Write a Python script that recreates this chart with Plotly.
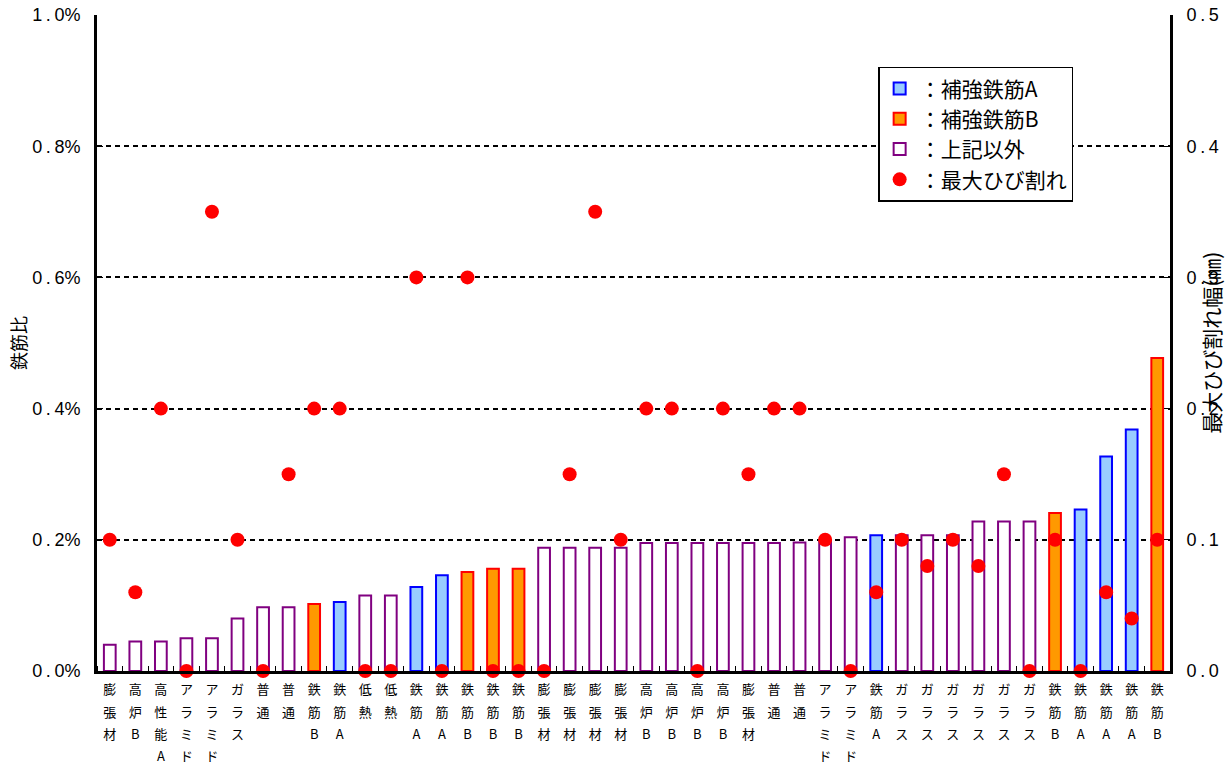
import plotly.graph_objects as go

categories = ["膨張材", "高炉B", "高性能A", "アラミド", "アラミド", "ガラス", "普通", "普通",
              "鉄筋B", "鉄筋A", "低熱", "低熱", "鉄筋A", "鉄筋A", "鉄筋B", "鉄筋B", "鉄筋B",
              "膨張材", "膨張材", "膨張材", "膨張材", "高炉B", "高炉B", "高炉B", "高炉B",
              "膨張材", "普通", "普通", "アラミド", "アラミド", "鉄筋A",
              "ガラス", "ガラス", "ガラス", "ガラス", "ガラス", "ガラス",
              "鉄筋B", "鉄筋A", "鉄筋A", "鉄筋A", "鉄筋B"]

# bar type: A = 補強鉄筋A, B = 補強鉄筋B, O = 上記以外
bar_types = ["O", "O", "O", "O", "O", "O", "O", "O",
             "B", "A", "O", "O", "A", "A", "B", "B", "B",
             "O", "O", "O", "O", "O", "O", "O", "O",
             "O", "O", "O", "O", "O", "A",
             "O", "O", "O", "O", "O", "O",
             "B", "A", "A", "A", "B"]

# 鉄筋比 (%)
ratio = [0.040, 0.045, 0.045, 0.050, 0.050, 0.080, 0.097, 0.097,
         0.102, 0.105, 0.115, 0.115, 0.128, 0.146, 0.151, 0.156, 0.156,
         0.188, 0.188, 0.188, 0.188, 0.195, 0.195, 0.195, 0.195,
         0.195, 0.195, 0.196, 0.198, 0.204, 0.207,
         0.207, 0.207, 0.207, 0.228, 0.228, 0.228,
         0.241, 0.246, 0.327, 0.368, 0.477]

# 最大ひび割れ幅 (mm)
crack = [0.10, 0.06, 0.20, 0.00, 0.35, 0.10, 0.00, 0.15,
         0.20, 0.20, 0.00, 0.00, 0.30, 0.00, 0.30, 0.00, 0.00,
         0.00, 0.15, 0.35, 0.10, 0.20, 0.20, 0.00, 0.20,
         0.15, 0.20, 0.20, 0.10, 0.00, 0.06,
         0.10, 0.08, 0.10, 0.08, 0.15, 0.00,
         0.10, 0.00, 0.06, 0.04, 0.10]

left_ticks = [0.0, 0.2, 0.4, 0.6, 0.8, 1.0]
right_ticks = [0.0, 0.1, 0.2, 0.3, 0.4, 0.5]

TS = "\u2009"
left_text = [f"{v:.1f}".replace(".", TS + "." + TS) + "%" for v in left_ticks]
right_text = [f"{v:.1f}".replace(".", TS + "." + TS) for v in right_ticks]

x_idx = list(range(len(categories)))
tick_text = ["<br>".join(f"<span style='font-size:13px'>{c}</span>" for c in cat) for cat in categories]

styles = {
    "A": dict(name="：補強鉄筋A", fill="#99CCFF", line="#0000FF"),
    "B": dict(name="：補強鉄筋B", fill="#FF9900", line="#FF0000"),
    "O": dict(name="：上記以外", fill="#FFFFFF", line="#800080"),
}

fig = go.Figure()
for key in ["A", "B", "O"]:
    xs = [i for i, t in zip(x_idx, bar_types) if t == key]
    ys = [r for r, t in zip(ratio, bar_types) if t == key]
    st = styles[key]
    fig.add_trace(go.Bar(
        x=xs, y=ys, name=st["name"], width=0.46,
        marker=dict(color=st["fill"], line=dict(color=st["line"], width=2)),
        yaxis="y",
    ))

fig.add_trace(go.Scatter(
    x=x_idx, y=crack, mode="markers", name="：最大ひび割れ",
    marker=dict(color="#FF0000", size=14, line=dict(width=0)),
    yaxis="y2", cliponaxis=False,
))

font_family = "Noto Sans CJK JP"
num_font = "Liberation Sans"

fig.update_layout(
    width=1231, height=767,
    margin=dict(l=97, r=61, t=15, b=96, autoexpand=False),
    paper_bgcolor="white", plot_bgcolor="white",
    barmode="overlay",
    showlegend=True,
    font=dict(family=font_family, color="black"),
    xaxis=dict(
        range=[-0.5, len(categories) - 0.5],
        tickmode="array", tickvals=x_idx, ticktext=tick_text,
        tickfont=dict(family=font_family, size=17, color="black"),
        ticks="", showgrid=False, zeroline=False,
        showline=True, linecolor="black", linewidth=3, mirror=False,
        tickangle=0, automargin=False,
        minor=dict(tickmode="linear", tick0=-0.5, dtick=1, ticks="inside",
                   ticklen=5, tickwidth=1, tickcolor="black", showgrid=False),
        fixedrange=True,
    ),
    yaxis=dict(
        range=[0, 1.0],
        tickmode="array", tickvals=left_ticks, ticktext=left_text,
        tickfont=dict(family=num_font, size=18, color="black"),
        showgrid=True, gridcolor="black", gridwidth=2, griddash="5px,4px",
        zeroline=False, automargin=False,
        showline=True, linecolor="black", linewidth=3,
        ticks="inside", ticklen=6, tickwidth=1, tickcolor="black",
        ticklabelstandoff=10,
    ),
    yaxis2=dict(
        range=[0, 0.5], overlaying="y", side="right",
        tickmode="array", tickvals=right_ticks, ticktext=right_text,
        tickfont=dict(family=num_font, size=18, color="black"),
        showgrid=False, zeroline=False, automargin=False,
        showline=True, linecolor="black", linewidth=3,
        ticks="inside", ticklen=6, tickwidth=1, tickcolor="black",
        ticklabelstandoff=10,
    ),
    legend=dict(
        x=0.728, y=0.921, xanchor="left", yanchor="top",
        bgcolor="white", bordercolor="black", borderwidth=1.5,
        font=dict(family=font_family, size=21, color="black"),
        traceorder="normal", itemwidth=30,
    ),
    annotations=[
        dict(text="鉄筋比", x=-0.0736, y=0.5, xref="paper", yref="paper",
             textangle=-90, showarrow=False, font=dict(family=font_family, size=18, color="black"),
             xanchor="center", yanchor="middle"),
        dict(text="最大ひび割れ幅(㎜)", x=1.038, y=0.5, xref="paper", yref="paper",
             textangle=-90, showarrow=False, font=dict(family=font_family, size=21, color="black"),
             xanchor="center", yanchor="middle"),
    ],
)

fig.write_html("out.html", config={"displayModeBar": False},
               post_script="document.body.style.margin='0';")
